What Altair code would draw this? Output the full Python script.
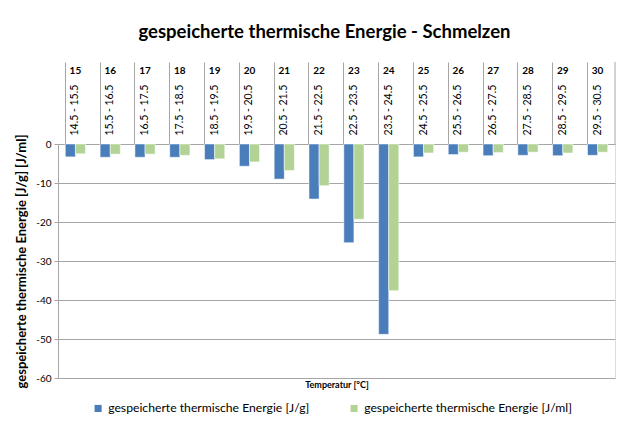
import altair as alt
import pandas as pd

categories = ["15", "16", "17", "18", "19", "20", "21", "22",
              "23", "24", "25", "26", "27", "28", "29", "30"]
series = ["gespeicherte thermische Energie [J/g]",
          "gespeicherte thermische Energie [J/ml]"]
energy_jg = [-3.3, -3.4, -3.4, -3.4, -4.0, -5.7, -9.0, -14.1,
             -25.3, -48.8, -3.3, -2.7, -3.0, -2.9, -3.0, -2.9]
energy_jml = [-2.5, -2.6, -2.6, -2.9, -3.8, -4.6, -6.8, -10.7,
              -19.3, -37.6, -2.3, -2.1, -2.2, -2.1, -2.3, -2.1]
y_ticks = [0, -10, -20, -30, -40, -50, -60]
colors = ["#4A7EBB", "#B3D396"]

rows = []
for i, c in enumerate(categories):
    rows.append({"Temp": c, "Serie": series[0], "Wert": energy_jg[i]})
    rows.append({"Temp": c, "Serie": series[1], "Wert": energy_jml[i]})
df = pd.DataFrame(rows)

FONT = "Lato"
GRAY = "#a6a6a6"
W, H = 557, 234

xscale = alt.Scale(paddingInner=0.42, paddingOuter=0.21)

bars = alt.Chart(df).mark_bar(stroke="white", strokeWidth=0.5).encode(
    x=alt.X("Temp:N", sort=categories, scale=xscale,
            axis=alt.Axis(orient="top", bandPosition=0, tickSize=82,
                          tickColor=GRAY, domainColor=GRAY, labelAngle=270,
                          labelAlign="left", labelBaseline="middle",
                          labelPadding=-73, labelOverlap=False,
                          labelExpr="(toNumber(datum.value)-0.5) + ' - ' + (toNumber(datum.value)+0.5)",
                          labelFontSize=10.5, labelFont=FONT, labelColor="black",
                          title=None, grid=False)),
    xOffset=alt.XOffset("Serie:N", sort=series),
    y=alt.Y("Wert:Q", scale=alt.Scale(domain=[-60, 0], nice=False),
            axis=alt.Axis(values=y_ticks, grid=True, gridColor=GRAY,
                          tickColor=GRAY, domainColor=GRAY, tickSize=4,
                          labelFontSize=10, labelFont=FONT, labelColor="black",
                          labelPadding=3, labelExpr="'' + datum.value",
                          title="gespeicherte thermische Energie [J/g] [J/ml]",
                          titleFont=FONT, titleFontSize=13, titleFontWeight="bold",
                          titleColor="black", titlePadding=7)),
    color=alt.Color("Serie:N", sort=series,
                    scale=alt.Scale(domain=series, range=colors),
                    legend=alt.Legend(orient="none", legendX=34, legendY=258,
                                      direction="horizontal", symbolType="square",
                                      symbolSize=50, symbolStrokeWidth=0,
                                      labelFontSize=12.2, labelFont=FONT,
                                      labelColor="black", labelLimit=0,
                                      columnPadding=38, title=None)),
)

nums = alt.Chart(pd.DataFrame({"Temp": categories})).mark_text(
    fontSize=10, font=FONT, fontWeight="bold", baseline="middle", color="black"
).encode(
    x=alt.X("Temp:N", sort=categories,
            axis=alt.Axis(orient="bottom", labels=False, ticks=False, domain=False,
                          grid=False, title="Temperatur [°C]", titleFont=FONT,
                          titleFontSize=9, titleFontWeight="bold", titleColor="black",
                          titlePadding=2)),
    y=alt.value(-73),
    text="Temp:N",
)

edge = alt.Chart(pd.DataFrame({"a": [0]})).mark_rule(color=GRAY).encode(
    x=alt.value(W), y=alt.value(-82), y2=alt.value(0)
)

chart = alt.layer(bars, nums, edge).resolve_axis(x="independent").properties(
    width=W, height=H,
    title=alt.TitleParams("gespeicherte thermische Energie - Schmelzen",
                          font=FONT, fontSize=18.5, fontWeight="bold",
                          color="black", anchor="middle", offset=20, dx=-12),
    autosize=alt.AutoSizeParams(type="none"),
    padding={"left": 50, "top": 136, "right": 15, "bottom": 45},
).configure_view(stroke=None).configure(background="white")

chart.save("out.html", embed_options={"renderer": "svg", "actions": False})
